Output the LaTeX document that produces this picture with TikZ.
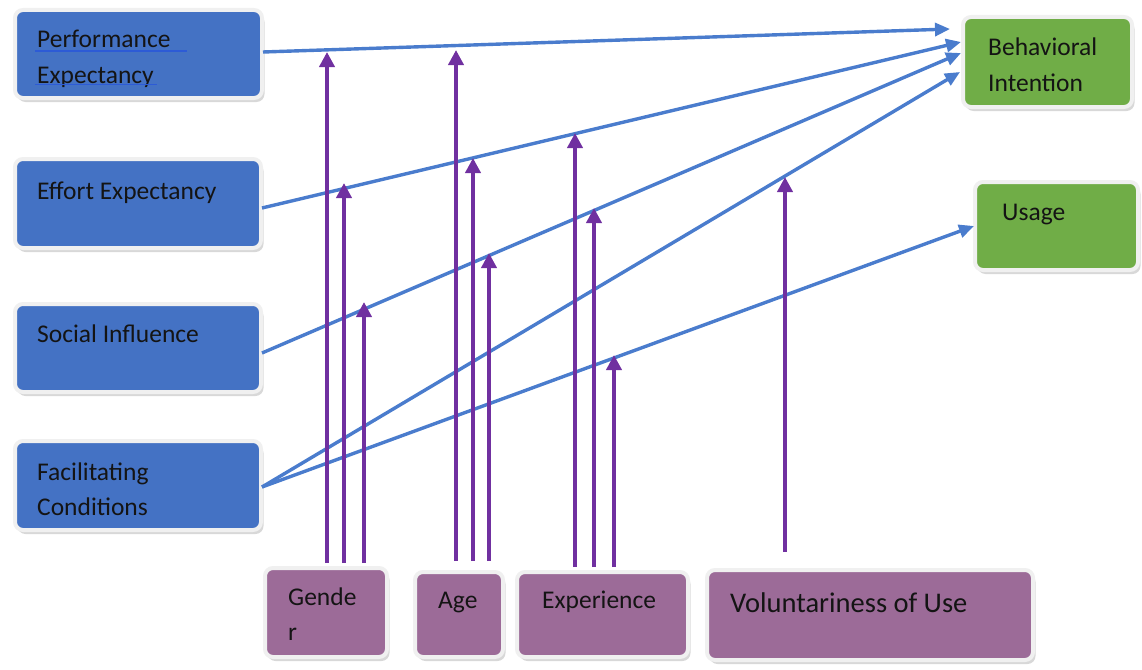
\documentclass[tikz,border=0pt]{standalone}
\usepackage{fontspec}
\setmainfont{Carlito}
\usetikzlibrary{arrows.meta}
\usetikzlibrary{shadows}
\definecolor{uBlue}{HTML}{4472C4}
\definecolor{uGreen}{HTML}{70AD47}
\definecolor{uPurple}{HTML}{9C6B98}
\definecolor{uLine}{HTML}{4A7CCD}
\definecolor{uMod}{HTML}{7030A0}
\definecolor{uUnder}{HTML}{2D5BD6}
\tikzset{ubox/.style={rectangle, rounded corners=8pt, draw=black!6, line width=4pt, anchor=north west, inner sep=0pt, outer sep=0pt,
  drop shadow={shadow xshift=2.5pt, shadow yshift=-4pt, fill=black!30}},
construct/.style={ubox, fill=uBlue},
outcome/.style={ubox, fill=uGreen},
moderator/.style={ubox, fill=uPurple},
%labels sit on their baseline
txt/.style={anchor=base west, inner sep=0pt, font=\fontsize{25.5pt}{30pt}\selectfont, text=black!92},
underl/.style={draw=uUnder, line width=1.5pt},
link/.style={draw=uLine, line width=3.4pt, -{Triangle[length=15pt,width=13pt]}},
modarrow/.style={draw=uMod, line width=4.3pt, -{Triangle[length=15pt,width=15pt]}}}

\begin{document}
\begin{tikzpicture}[x=1pt,y=-1pt]
\useasboundingbox (0,0) rectangle (1142,669);

% constructs on the left
\node[construct, minimum width=247pt, minimum height=88pt] (pe) at (15,10) {};
\node[construct, minimum width=246pt, minimum height=89pt] (ee) at (15,159) {};
\node[construct, minimum width=246pt, minimum height=88pt] (si) at (15,304) {};
\node[construct, minimum width=246pt, minimum height=89pt] (fc) at (15,441) {};

% outcomes on the right
\node[outcome, minimum width=169pt, minimum height=90pt] (bi) at (963,17) {};
\node[outcome, minimum width=163pt, minimum height=88pt] (us) at (975,182) {};

% moderators along the bottom
\node[moderator, minimum width=122pt, minimum height=89pt] (gen) at (265,568) {};
\node[moderator, minimum width=88pt, minimum height=85pt] (age) at (415,572) {};
\node[moderator, minimum width=171pt, minimum height=85pt] (exp) at (517,572) {};
\node[moderator, minimum width=326pt, minimum height=90pt] (vol) at (707,570) {};

%labels
\foreach \n/\x/\y/\t in {pe-a/37/48/Performance, pe-b/37/83/Expectancy,
    ee-a/37/199/Effort Expectancy, si-a/37/342/Social Influence,
    fc-a/37/480/Facilitating, fc-b/37/515/Conditions,
    bi-a/988/56/Behavioral, bi-b/988/92/Intention, us-a/1002/220/Usage,
    gen-a/288/605/Gende, gen-b/288/640/r, age-a/438/608/Age, exp-a/542/608/Experience}
  \node[txt] (\n) at (\x,\y) {\t};
\node[txt, font=\fontsize{28.5pt}{34pt}\selectfont] (vol-a) at (730,612) {Voluntariness of Use};

\draw[underl] ([shift={(-2,3)}]pe-a.base west) -- ++(152,0);
\draw[underl] ([shift={(-2,1.5)}]pe-b.base west) -- ++(122,0);

% paths into intention and usage
\coordinate (bi-pe) at ([shift={(-13,-33)}]bi.west);
\coordinate (bi-ee) at ([shift={(-2,-20)}]bi.west);
\coordinate (bi-si) at ([shift={(-2,-9)}]bi.west);
\coordinate (bi-fc) at ([shift={(-3,10)}]bi.west);

\draw[link] ([shift={(1,-2)}]pe.east) -- (bi-pe);
\draw[link] ([shift={(1,4.5)}]ee.east) -- (bi-ee);
\draw[link] ([shift={(1,5)}]si.east) -- (bi-si);
\draw[link] ([shift={(1,1.5)}]fc.east) -- (bi-fc);
\draw[link] ([shift={(1,1.5)}]fc.east) -- ([shift={(-1,0)}]us.west);

% moderating arrows: box / offset / gap / length
\foreach \m/\dx/\gap/\len in {gen/1/5/511, gen/18/5/380, gen/38/5/261,
    age/-3/11/511, age/14/11/403, age/30/11/308,
    exp/-27.5/5/434, exp/-8.5/5/359, exp/11.5/5/212, vol/-85/18/375}
  \draw[modarrow] ([shift={(\dx,-\gap)}]\m.north) -- ++(0,-\len);

\end{tikzpicture}
\end{document}
